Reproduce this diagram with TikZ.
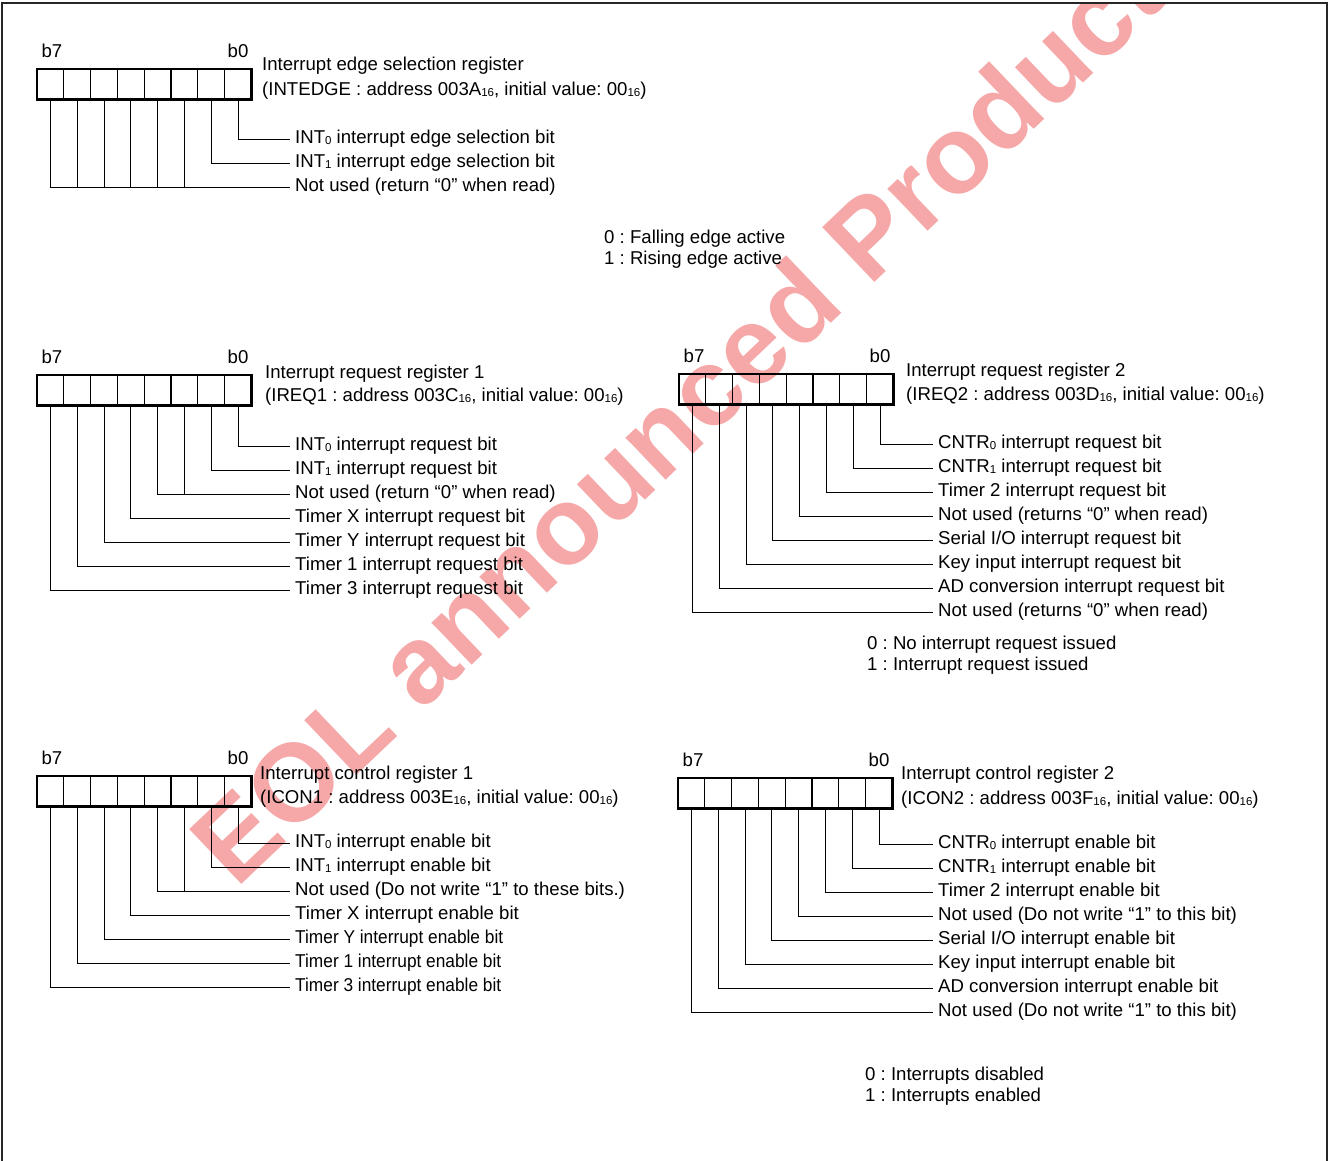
\documentclass[tikz,border=0pt]{standalone}
\usepackage{fontspec}
\setmainfont{Liberation Sans}
\usepackage{tikz}
\usetikzlibrary{positioning}

\definecolor{wmred}{RGB}{246,168,168}
\newcommand{\lowdig}[1]{\raisebox{-0.8pt}{\fontsize{11.5}{11.5}\selectfont #1}}
\newcommand{\lbl}{\fontsize{18.6}{22}\selectfont\frenchspacing}
% one 8-bit register: name, left x, top y
\newcommand{\regbox}[3]{%
  \foreach \i in {0,...,7}
    \node[cell] (#1\i) at ({#2+(7.5-\i)*26.8},{#3+15.25}) {};
  \foreach \i in {0,...,6}
    \draw[divider] (#1\i.north west) -- (#1\i.south west);
  \draw[regframe] (#17.north west) rectangle (#10.south east);
  \node[bitno] (#1b7) at ({#2+15},{#3-12}) {b7};
  \node[bitno] (#1b0) at ({#2+201},{#3-12}) {b0};
}

\begin{document}
\begin{tikzpicture}[x=1pt,y=-1pt,line cap=butt,
  cell/.style={minimum width=26.8pt,minimum height=30.5pt,inner sep=0pt,outer sep=0pt},
  divider/.style={line width=1.3pt},
  regframe/.style={line width=2.4pt},
  bitno/.style={anchor=base,inner sep=0pt,font=\lbl},
  ttl/.style={anchor=base west,inner sep=0pt,font=\lbl},
  lab/.style={anchor=west,inner xsep=5pt,inner ysep=0pt,text height=13.5pt,text depth=4pt,font=\lbl},
  wire/.style={line width=0.9pt},
  frame/.style={line width=2.6pt,draw=black!85},
  wmark/.style={anchor=base west,inner sep=0pt,rotate=43.6,text=wmred,font=\fontsize{110}{110}\selectfont\bfseries}]
\useasboundingbox (0,0) rectangle (1329,1160);
% watermark
\begin{scope}
\clip (2,3) rectangle (1329,1160);
\node[wmark] (wm) at (236,890) {EOL announced Product};
\end{scope}
% outer frame
\draw[frame] (2,1175) -- (2,3) -- (1327,3) -- (1327,1175);

% interrupt edge selection register
\regbox{ra}{37}{69}
\node[ttl] (ra-t1) at (262,70.5) {Interrupt edge selection register};
\node[ttl] (ra-t2) at (262,95.5) {(INTEDGE : address 003A\lowdig{16}, initial value: 00\lowdig{16})};
\node[lab] (ra-l0) at (290,139) {INT\lowdig{0} interrupt edge selection bit};
\node[lab] (ra-l1) at (290,163) {INT\lowdig{1} interrupt edge selection bit};
\node[lab] (ra-l2) at (290,187) {Not used (return “0” when read)};
\draw[wire] (ra0.south) |- (ra-l0.west);
\draw[wire] (ra1.south) |- (ra-l1.west);
\draw[wire] (ra7.south) |- (ra-l2.west);
\foreach \i in {2,...,6} \draw[wire] (ra\i.south) -- (ra\i.south |- ra-l2.west);
\node[ttl] (ra-k0) at (604,243.5) {0 : Falling edge active};
\node[ttl] (ra-k1) at (604,264.5) {1 : Rising edge active};

% interrupt request register 1
\regbox{rb}{37}{375}
\node[ttl] (rb-t1) at (265,378.5) {Interrupt request register 1};
\node[ttl] (rb-t2) at (265,401.5) {(IREQ1 : address 003C\lowdig{16}, initial value: 00\lowdig{16})};
\node[lab] (rb-l0) at (290,446) {INT\lowdig{0} interrupt request bit};
\node[lab] (rb-l1) at (290,470) {INT\lowdig{1} interrupt request bit};
\node[lab] (rb-l2) at (290,494) {Not used (return “0” when read)};
\foreach \i/\t in {4/Timer X,5/Timer Y,6/Timer 1,7/Timer 3}
  \node[lab] (rb-l\i) at (290,{422+24*\i}) {\t{} interrupt request bit};
\foreach \i in {0,1,4,5,6,7} \draw[wire] (rb\i.south) |- (rb-l\i.west);
\draw[wire] (rb3.south) |- (rb-l2.west);
\draw[wire] (rb2.south) -- (rb2.south |- rb-l2.west);

% interrupt request register 2
\regbox{rc}{679}{374}
\node[ttl] (rc-t1) at (906,376.5) {Interrupt request register 2};
\node[ttl] (rc-t2) at (906,400.5) {(IREQ2 : address 003D\lowdig{16}, initial value: 00\lowdig{16})};
\foreach \i/\t in {0/{CNTR\lowdig{0} interrupt request bit},1/{CNTR\lowdig{1} interrupt request bit},
    2/{Timer 2 interrupt request bit},3/{Not used (returns “0” when read)},
    4/{Serial I/O interrupt request bit},5/{Key input interrupt request bit},
    6/{AD conversion interrupt request bit},7/{Not used (returns “0” when read)}} {
  \node[lab] (rc-l\i) at (933,{444+24*\i}) {\t};
  \draw[wire] (rc\i.south) |- (rc-l\i.west);
}
\node[ttl] (rc-k0) at (867,649.5) {0 : No interrupt request issued};
\node[ttl] (rc-k1) at (867,670.5) {1 : Interrupt request issued};

% interrupt control register 1
\regbox{rd}{37}{776}
\node[ttl] (rd-t1) at (260,779.5) {Interrupt control register 1};
\node[ttl] (rd-t2) at (260,803.5) {(ICON1 : address 003E\lowdig{16}, initial value: 00\lowdig{16})};
\node[lab] (rd-l0) at (290,843) {INT\lowdig{0} interrupt enable bit};
\node[lab] (rd-l1) at (290,867) {INT\lowdig{1} interrupt enable bit};
\node[lab] (rd-l2) at (290,891) {Not used (Do not write “1” to these bits.)};
\node[lab] (rd-l4) at (290,915) {Timer X interrupt enable bit};
\foreach \i/\t in {5/Timer Y,6/Timer 1,7/Timer 3}
  \node[lab] (rd-l\i) at (290,{819+24*\i}) {\scalebox{0.93}[1]{\t{} interrupt enable bit}};
\foreach \i in {0,1,4,5,6,7} \draw[wire] (rd\i.south) |- (rd-l\i.west);
\draw[wire] (rd3.south) |- (rd-l2.west);
\draw[wire] (rd2.south) -- (rd2.south |- rd-l2.west);

% interrupt control register 2
\regbox{re}{678}{778}
\node[ttl] (re-t1) at (901,779.5) {Interrupt control register 2};
\node[ttl] (re-t2) at (901,804.5) {(ICON2 : address 003F\lowdig{16}, initial value: 00\lowdig{16})};
\foreach \i/\t in {0/{CNTR\lowdig{0} interrupt enable bit},1/{CNTR\lowdig{1} interrupt enable bit},
    2/{Timer 2 interrupt enable bit},3/{Not used (Do not write “1” to this bit)},
    4/{Serial I/O interrupt enable bit},5/{Key input interrupt enable bit},
    6/{AD conversion interrupt enable bit},7/{Not used (Do not write “1” to this bit)}} {
  \node[lab] (re-l\i) at (933,{844+24*\i}) {\t};
  \draw[wire] (re\i.south) |- (re-l\i.west);
}
\node[ttl] (re-k0) at (865,1080.5) {0 : Interrupts disabled};
\node[ttl] (re-k1) at (865,1101.5) {1 : Interrupts enabled};
\end{tikzpicture}
\end{document}
